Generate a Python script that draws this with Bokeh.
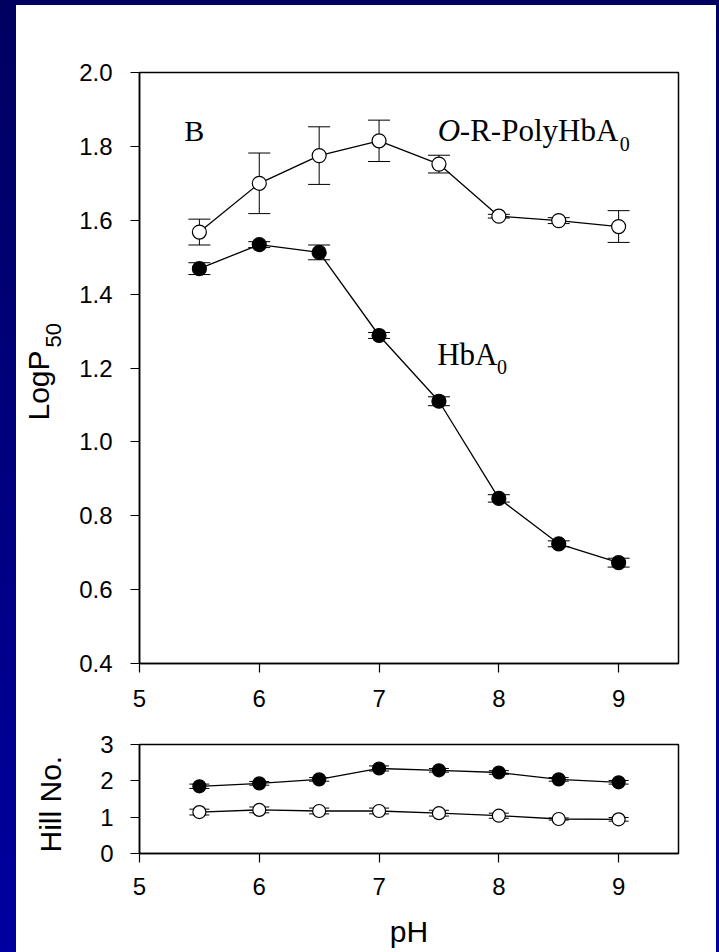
import math
from bokeh.plotting import figure
from bokeh.models import (ColumnDataSource, Whisker, TeeHead, Label, FixedTicker,
                          Range1d, PrintfTickFormatter)
from bokeh.layouts import column, row
from bokeh.embed import file_html
from bokeh.resources import INLINE

# ---------------- data ----------------
ph = [5.5, 6.0, 6.5, 7.0, 7.5, 8.0, 8.5, 9.0]

poly_logp50 = [1.568, 1.700, 1.775, 1.815, 1.752, 1.611, 1.599, 1.583]
poly_logp50_err = [0.035, 0.082, 0.078, 0.056, 0.024, 0.005, 0.008, 0.043]
hba_logp50 = [1.469, 1.534, 1.513, 1.288, 1.110, 0.847, 0.724, 0.673]
hba_logp50_err = [0.016, 0.008, 0.020, 0.008, 0.012, 0.010, 0.008, 0.012]

hba_hill = [1.85, 1.93, 2.04, 2.34, 2.29, 2.23, 2.04, 1.96]
hba_hill_err = [0.06, 0.05, 0.05, 0.07, 0.05, 0.05, 0.05, 0.05]
poly_hill = [1.14, 1.20, 1.17, 1.17, 1.11, 1.04, 0.95, 0.94]
poly_hill_err = [0.08, 0.08, 0.08, 0.08, 0.08, 0.07, 0.03, 0.05]

x_ticks = [5, 6, 7, 8, 9]
logp_ticks = [0.4, 0.6, 0.8, 1.0, 1.2, 1.4, 1.6, 1.8, 2.0]
hill_ticks = [0, 1, 2, 3]

SANS = "Liberation Sans"
SERIF = "Liberation Serif"


def src(y, e):
    return ColumnDataSource(dict(x=ph, y=y,
                                 upper=[a + b for a, b in zip(y, e)],
                                 lower=[a - b for a, b in zip(y, e)]))


def style_axes(p, yticks, xstandoff, ystandoff):
    p.xgrid.visible = False
    p.ygrid.visible = False
    p.xaxis.ticker = FixedTicker(ticks=x_ticks)
    p.yaxis.ticker = FixedTicker(ticks=yticks)
    for ax in (p.xaxis[0], p.yaxis[0]):
        ax.axis_line_color = "black"
        ax.axis_line_width = 1.5
        ax.major_tick_line_color = "black"
        ax.major_tick_line_width = 1.2
        ax.major_tick_out = 9
        ax.major_tick_in = 0
        ax.minor_tick_line_color = None
        ax.major_label_text_font = SANS
        ax.major_label_text_font_size = "24px"
        ax.major_label_text_color = "black"
    p.xaxis.major_label_standoff = xstandoff
    p.yaxis.major_label_standoff = ystandoff
    p.outline_line_color = "black"
    p.outline_line_width = 1.5
    p.outline_line_alpha = 1.0
    p.background_fill_color = "white"
    p.border_fill_color = "white"


def add_series(p, s, fill, size, cap):
    p.add_layout(Whisker(source=s, base="x", upper="upper", lower="lower",
                         line_color="black", line_width=1,
                         upper_head=TeeHead(size=cap, line_color="black", line_width=1),
                         lower_head=TeeHead(size=cap, line_color="black", line_width=1)))
    p.line("x", "y", source=s, line_color="black", line_width=1.3)
    p.scatter("x", "y", source=s, marker="circle", size=size,
              fill_color=fill, line_color="black", line_width=1.2)


def txt(p, x, y, text, font, size, style="normal", angle=0.0, align="left"):
    p.add_layout(Label(x=x, y=y, text=text, text_font=font, text_font_size=size,
                       text_font_style=style, text_color="black", angle=angle,
                       text_baseline="alphabetic", text_align=align))


# ---------------- left strip holding the rotated y titles ----------------
pl = figure(width=60, height=947, x_range=Range1d(0, 60), y_range=Range1d(0, 947),
            output_backend="svg", toolbar_location=None,
            min_border=0, min_border_left=0, min_border_right=0,
            min_border_top=0, min_border_bottom=0)
pl.axis.visible = False
pl.grid.visible = False
pl.outline_line_color = None
pl.background_fill_color = "white"
pl.border_fill_color = "white"
txt(pl, 21.5, 532, "LogP", SANS, "30px", angle=math.pi / 2)
txt(pl, 37.0, 605, "50", SANS, "22px", angle=math.pi / 2)
txt(pl, 33.5, 100, "Hill No.", SANS, "30px", angle=math.pi / 2)

# ---------------- main panel ----------------
p1 = figure(width=640, height=715, x_range=Range1d(5, 9.5), y_range=Range1d(0.4, 2.0),
            output_backend="svg", toolbar_location=None,
            min_border_left=60, min_border_right=38, min_border_top=67, min_border_bottom=57)
style_axes(p1, logp_ticks, 17, 18)
p1.yaxis.formatter = PrintfTickFormatter(format="%.1f")

add_series(p1, src(poly_logp50, poly_logp50_err), "white", 14, 22)
add_series(p1, src(hba_logp50, hba_logp50_err), "black", 14, 22)

# in-plot annotations
txt(p1, 5.373, 1.842, "B", SERIF, "30px")
txt(p1, 7.491, 1.842, "O", SERIF, "31px", style="italic")
p1.add_layout(Label(x=7.491, y=1.842, x_offset=22, text="-R-PolyHbA", text_font=SERIF,
                    text_font_size="31px", text_color="black", text_baseline="alphabetic"))
txt(p1, 9.010, 1.807, "0", SERIF, "20px")
txt(p1, 7.485, 1.237, "HbA", SERIF, "31px")
txt(p1, 7.985, 1.202, "0", SERIF, "20px")

# ---------------- Hill panel ----------------
p2 = figure(width=640, height=232, x_range=Range1d(5, 9.5), y_range=Range1d(0, 3),
            output_backend="svg", toolbar_location=None,
            min_border_left=63, min_border_right=34, min_border_top=24, min_border_bottom=99)
style_axes(p2, hill_ticks, 15, 17)
p2.xaxis.axis_label = "pH"
p2.xaxis.axis_label_text_font = SANS
p2.xaxis.axis_label_text_font_size = "30px"
p2.xaxis.axis_label_text_font_style = "normal"
p2.xaxis.axis_label_text_color = "black"
p2.xaxis.axis_label_standoff = 17

add_series(p2, src(hba_hill, hba_hill_err), "black", 13, 20)
add_series(p2, src(poly_hill, poly_hill_err), "white", 13, 20)

# ---------------- page with navy frame ----------------
inner = row(pl, column(p1, p2, styles={"background": "white"}),
            styles={"margin-left": "16px", "margin-top": "5px", "background": "white"})
layout = row(inner,
             styles={"background": "linear-gradient(to bottom, #000060, #0000a0)",
                     "width": "719px", "height": "952px"})

open("out.html", "w").write(file_html(layout, INLINE))
